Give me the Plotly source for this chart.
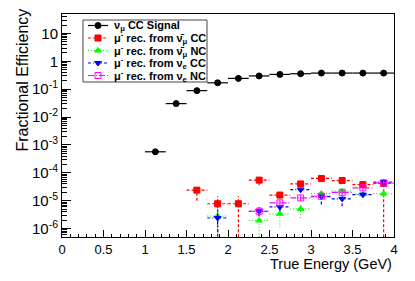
import plotly.graph_objects as go

# ---------------- data ----------------
half_width = 0.125

signal_x = [1.125, 1.375, 1.625, 1.875, 2.125, 2.375, 2.625, 2.875, 3.125, 3.375, 3.625, 3.875]
signal_y = [5.7e-4, 0.0305, 0.089, 0.17, 0.245, 0.30, 0.34, 0.36, 0.38, 0.38, 0.38, 0.38]

numubar_cc_x = [1.625, 1.875, 2.125, 2.375, 2.625, 2.875, 3.125, 3.375, 3.625, 3.875]
numubar_cc_y = [2.4e-5, 7.8e-6, 7.8e-6, 5.5e-5, 1.6e-5, 4.0e-5, 6.3e-5, 5.3e-5, 3.8e-5, 4.2e-5]
numubar_cc_hi = [3.3e-5, 1.45e-5, 1.45e-5, 7.2e-5, 2.0e-5, 4.8e-5, 7.5e-5, 6.3e-5, 4.6e-5, 6.6e-5]
numubar_cc_lo = [1.0e-5, 0.0, 0.0, 3.6e-5, 1.2e-5, 3.2e-5, 5.2e-5, 4.3e-5, 3.0e-5, 0.0]

numubar_nc_x = [1.875, 2.375, 2.625, 2.875, 3.125, 3.375, 3.625, 3.875]
numubar_nc_y = [2.8e-6, 1.95e-6, 3.4e-6, 5.1e-6, 1.8e-5, 2.2e-5, 1.7e-5, 1.8e-5]
numubar_nc_hi = [5.8e-6, 3.2e-6, 4.2e-6, 7.2e-6, 2.3e-5, 2.7e-5, 2.1e-5, 2.3e-5]
numubar_nc_lo = [0.0, 0.0, 1.1e-6, 2.4e-6, 1.4e-5, 1.7e-5, 1.3e-5, 1.4e-5]

nue_cc_x = [1.875, 2.375, 2.625, 2.875, 3.125, 3.375, 3.625, 3.875]
nue_cc_y = [2.4e-6, 4.2e-6, 6.0e-6, 2.5e-5, 1.4e-5, 1.17e-5, 1.66e-5, 4.7e-5]
nue_cc_hi = [5.8e-6, 6.0e-6, 8.0e-6, 3.1e-5, 1.9e-5, 1.45e-5, 2.0e-5, 5.5e-5]
nue_cc_lo = [0.0, 2.8e-6, 4.3e-6, 2.0e-5, 7.3e-6, 6.4e-6, 1.3e-5, 4.0e-5]

nue_nc_x = [2.375, 2.625, 2.875, 3.125, 3.375, 3.625, 3.875]
nue_nc_y = [4.2e-6, 8.4e-6, 1.26e-5, 1.45e-5, 2.0e-5, 2.9e-5, 4.4e-5]
nue_nc_hi = [6.4e-6, 1.05e-5, 1.55e-5, 1.75e-5, 2.4e-5, 3.4e-5, 5.1e-5]
nue_nc_lo = [2.8e-6, 6.6e-6, 1.0e-5, 1.2e-5, 1.65e-5, 2.45e-5, 3.8e-5]

legend_labels = [
    "<b>ν<sub>μ</sub> CC Signal</b>",
    "<b>μ<sup>-</sup> rec. from ν\u0304<sub>μ</sub> CC</b>",
    "<b>μ<sup>-</sup> rec. from ν\u0304<sub>μ</sub> NC</b>",
    "<b>μ<sup>-</sup> rec. from ν<sub>e</sub> CC</b>",
    "<b>μ<sup>-</sup> rec. from ν<sub>e</sub> NC</b>",
]

x_ticks = [0, 0.5, 1, 1.5, 2, 2.5, 3, 3.5, 4]
y_ticks = [1e-6, 1e-5, 1e-4, 1e-3, 1e-2, 1e-1, 1, 10]
y_ticktext = ["10<sup>-6</sup>", "10<sup>-5</sup>", "10<sup>-4</sup>", "10<sup>-3</sup>",
              "10<sup>-2</sup>", "10<sup>-1</sup>", "1", "10"]

# ---------------- helpers ----------------
FLOOR = 1e-9


def segments(xs, ys, his=None, los=None):
    sx, sy = [], []
    for i, (x, y) in enumerate(zip(xs, ys)):
        sx += [x - half_width, x + half_width, None]
        sy += [y, y, None]
        if his is not None:
            sx += [x, x, None]
            sy += [max(los[i], FLOOR), his[i], None]
    return sx, sy


series = [
    dict(x=signal_x, y=signal_y, hi=None, lo=None, color="black", dash="solid",
         symbol="circle", size=6, lw=1.2),
    dict(x=numubar_cc_x, y=numubar_cc_y, hi=numubar_cc_hi, lo=numubar_cc_lo, color="#ff0000",
         dash="3px,2px", symbol="square", size=6, lw=1.2),
    dict(x=numubar_nc_x, y=numubar_nc_y, hi=numubar_nc_hi, lo=numubar_nc_lo, color="#00ff00",
         dash="1px,2px", symbol="triangle-up", size=6, lw=1.2),
    dict(x=nue_cc_x, y=nue_cc_y, hi=nue_cc_hi, lo=nue_cc_lo, color="#0000ff",
         dash="3px,2px,1px,2px", symbol="triangle-down", size=6, lw=1.2),
    dict(x=nue_nc_x, y=nue_nc_y, hi=nue_nc_hi, lo=nue_nc_lo, color="#ff00ff",
         dash="6px,2px,1px,2px", symbol="square-open", size=6, lw=1.2),
]

fig = go.Figure()

for s in series:
    sx, sy = segments(s["x"], s["y"], s["hi"], s["lo"])
    fig.add_trace(go.Scatter(x=sx, y=sy, mode="lines",
                             line=dict(color=s["color"], width=s["lw"], dash=s["dash"]),
                             showlegend=False, hoverinfo="skip"))
    fig.add_trace(go.Scatter(x=s["x"], y=s["y"], mode="markers",
                             marker=dict(symbol=s["symbol"], size=s["size"], color=s["color"],
                                         line=dict(color=s["color"], width=1)),
                             showlegend=False))

# ---------------- layout geometry (page has an 8px body margin) ----------------
OFF = 8
FIG_W, FIG_H = 415 - 2 * OFF, 281 - 2 * OFF
L, R, T, B = 62, 394, 14, 237          # plot frame in page pixels
W, H = R - L, B - T


def px(xp):
    return (xp - L) / W


def py(yp):
    return (B - yp) / H


fig.add_shape(type="rect", xref="paper", yref="paper",
              x0=px(83), x1=px(207), y0=py(82), y1=py(20),
              line=dict(color="#444444", width=1), fillcolor="white", layer="below")

row_y = [25.5, 38.0, 50.5, 63.0, 75.5]
for i, s in enumerate(series):
    yy = py(row_y[i])
    fig.add_trace(go.Scatter(x=[px(88), px(108)], y=[yy, yy], mode="lines",
                             xaxis="x2", yaxis="y2",
                             line=dict(color=s["color"], width=s["lw"], dash=s["dash"]),
                             showlegend=False, hoverinfo="skip"))
    fig.add_trace(go.Scatter(x=[px(98)], y=[yy], mode="markers", xaxis="x2", yaxis="y2",
                             marker=dict(symbol=s["symbol"], size=s["size"], color=s["color"],
                                         line=dict(color=s["color"], width=1)),
                             showlegend=False, hoverinfo="skip"))
    fig.add_annotation(x=px(112), y=yy, xref="paper", yref="paper", text=legend_labels[i],
                       showarrow=False, xanchor="left", yanchor="middle",
                       font=dict(size=11, color="black", family="Liberation Sans"))

# axis titles (ROOT style, aligned to the end)
fig.add_annotation(x=1, y=py(264), xref="paper", yref="paper", text="True Energy (GeV)",
                   showarrow=False, xanchor="right", yanchor="middle",
                   font=dict(size=14.5, color="black", family="Liberation Sans"))
fig.add_annotation(x=px(22), y=py(7), xref="paper", yref="paper", text="Fractional Efficiency",
                   showarrow=False, textangle=-90, xanchor="center", yanchor="top",
                   font=dict(size=16, color="black", family="Liberation Sans"))

minor_y = [m * 10.0 ** e for e in range(-7, 2) for m in range(2, 10)]

fig.update_layout(
    width=FIG_W, height=FIG_H,
    margin=dict(l=L - OFF, r=FIG_W - (R - OFF), t=T - OFF, b=FIG_H - (B - OFF), pad=0),
    paper_bgcolor="white", plot_bgcolor="white",
    font=dict(family="Liberation Sans", size=12, color="black"),
    showlegend=False,
    xaxis=dict(range=[0, 4], tickvals=x_ticks, ticks="inside", ticklen=7, tickcolor="black",
               showline=True, linecolor="black", linewidth=1, mirror=True,
               showgrid=False, zeroline=False, tickfont=dict(size=13),
               minor=dict(dtick=0.1, tick0=0, ticks="inside", ticklen=3.5, tickcolor="black",
                          showgrid=False)),
    yaxis=dict(type="log", range=[-6.301, 1.699], tickvals=y_ticks, ticktext=y_ticktext,
               ticks="inside", ticklen=9, tickcolor="black",
               showline=True, linecolor="black", linewidth=1, mirror=True,
               showgrid=False, zeroline=False, tickfont=dict(size=15),
               minor=dict(tickvals=minor_y, ticks="inside", ticklen=4.5, tickcolor="black",
                          showgrid=False)),
    xaxis2=dict(overlaying="x", range=[0, 1], visible=False, anchor="y2"),
    yaxis2=dict(overlaying="y", range=[0, 1], visible=False, anchor="x2"),
)

fig.write_html("out.html")
